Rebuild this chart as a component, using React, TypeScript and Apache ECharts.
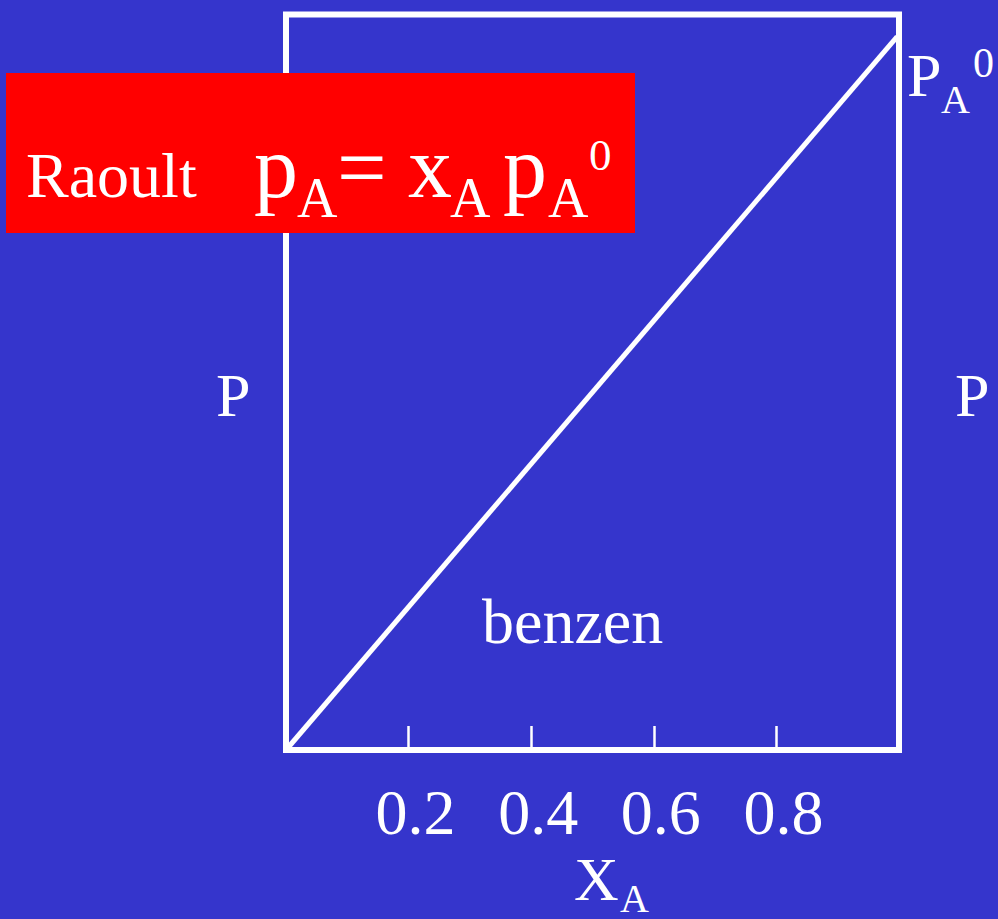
import React, { useEffect, useRef } from "react";
import * as echarts from "echarts";

const xRange = [0, 1];
const yRange = [0, 1];
const tickStep = 0.2;
const raoultLine: [number, number][] = [
  [0, 0],
  [0.997, 0.97],
];
const hiddenTickValues = [0, 1];

const BG = "#3535CC";
const FONT = "'Liberation Serif', 'Times New Roman', serif";

function txt(text: string, x: number, y: number, size: number) {
  return {
    type: "text",
    x,
    y,
    z: 110,
    style: {
      text,
      fill: "#ffffff",
      fontSize: size,
      fontFamily: FONT,
      align: "left",
      verticalAlign: "middle",
    },
  };
}

export default function App() {
  const ref = useRef<HTMLDivElement>(null);
  useEffect(() => {
    if (!ref.current) return;
    const chart = echarts.init(ref.current, null, { renderer: "svg" });
    chart.setOption({
      animation: false,
      backgroundColor: BG,
      grid: {
        left: 286,
        top: 14.5,
        width: 613,
        height: 735.5,
        show: true,
        borderColor: "#ffffff",
        borderWidth: 6,
        backgroundColor: "transparent",
      },
      xAxis: {
        type: "value",
        min: xRange[0],
        max: xRange[1],
        interval: tickStep,
        axisLine: { show: false },
        splitLine: { show: false },
        axisTick: {
          show: true,
          inside: true,
          length: 24,
          lineStyle: { color: "#ffffff", width: 2.5 },
        },
        axisLabel: {
          show: true,
          color: "#ffffff",
          fontSize: 64,
          fontFamily: FONT,
          margin: 30,
          padding: [0, 0, 0, 14],
          formatter: (v: number) =>
            hiddenTickValues.some((h) => Math.abs(h - v) < 1e-9) ? "" : v.toFixed(1),
        },
      },
      yAxis: {
        type: "value",
        min: yRange[0],
        max: yRange[1],
        show: false,
        splitLine: { show: false },
      },
      series: [
        {
          type: "line",
          data: raoultLine,
          symbol: "none",
          lineStyle: { color: "#ffffff", width: 5 },
          z: 5,
        },
      ],
      graphic: {
        elements: [
          {
            type: "rect",
            shape: { x: 6, y: 73, width: 629, height: 160 },
            style: { fill: "#ff0000" },
            z: 100,
          },
          txt("Raoult", 26, 175.5, 64),
          txt("p", 254, 167, 88),
          txt("A", 297, 198, 56),
          txt("=", 337, 167, 88),
          txt("x", 408, 167, 88),
          txt("A", 450, 198, 56),
          txt("p", 503, 167, 88),
          txt("A", 548, 198, 56),
          txt("0", 589, 155, 45),
          txt("P", 907, 75, 62),
          txt("A", 941, 99.5, 40),
          txt("0", 973, 63, 42),
          txt("P", 216, 395, 62),
          txt("P", 955, 395, 62),
          txt("benzen", 482, 621.5, 64),
          txt("X", 574, 879, 62),
          txt("A", 620, 898, 40),
        ],
      },
    });
    return () => chart.dispose();
  }, []);
  return (
    <div
      ref={ref}
      style={{ position: "fixed", left: 0, top: 0, width: 998, height: 919 }}
    />
  );
}
